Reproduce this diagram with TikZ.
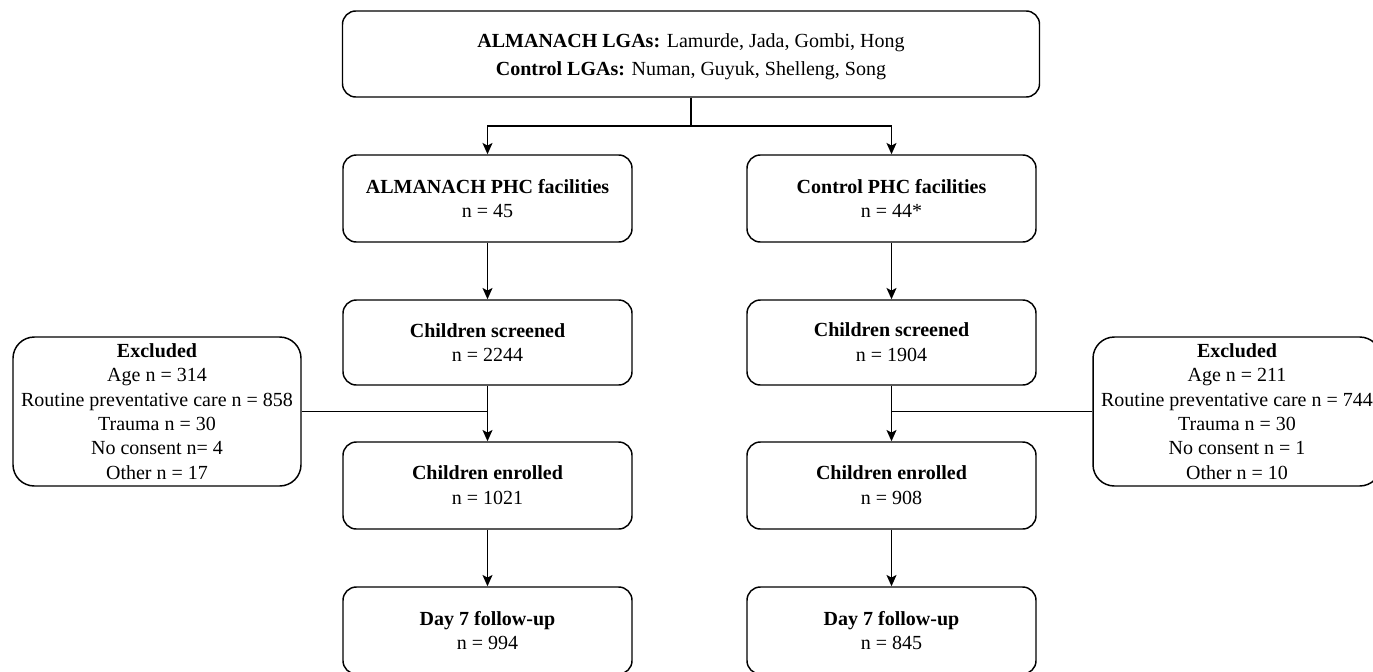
\documentclass[tikz,border=0pt]{standalone}
\usepackage{fontspec}
\setmainfont{Liberation Serif}
\usetikzlibrary{arrows.meta,calc}
\tikzset{
  box/.style={draw, line width=1.1pt, rounded corners=10pt, align=center,
    font=\fontsize{15}{18.6}\selectfont, minimum width=289*0.75pt, minimum height=87*0.75pt, inner sep=0pt},
  exbox/.style={box, rounded corners=16pt, font=\fontsize{15}{18.2}\selectfont, minimum width=288*0.75pt, minimum height=149*0.75pt},
  arr/.style={line width=1.1pt, -{Stealth[length=8.5pt,width=7.5pt,inset=2pt]}},
  ln/.style={line width=1.1pt}
}
\begin{document}
\begin{tikzpicture}[x=0.75pt,y=-0.75pt]
\useasboundingbox (0,0) rectangle (1373,671);
\node[box, minimum width=697*0.75pt, minimum height=86*0.75pt, font=\fontsize{15}{21}\selectfont] (top) at (691,54)
  {\rule{0pt}{14pt}\textbf{ALMANACH LGAs:} Lamurde, Jada, Gombi, Hong\\\textbf{Control LGAs:} Numan, Guyuk, Shelleng, Song};
\coordinate (split) at (691,126);
\node[box] (alm) at (487.5,198.5) {\textbf{ALMANACH PHC facilities}\\n = 45};
\node[box] (ctl) at (891.5,198.5) {\textbf{Control PHC facilities}\\n = 44*};
\node[box, minimum height=85*0.75pt] (scrA) at (487.5,342.5) {\textbf{Children screened}\\n = 2244};
\node[box, minimum height=85*0.75pt] (scrC) at (891.5,342.5) {\textbf{Children screened}\\n = 1904};
\node[box] (enrA) at (487.5,485.5) {\textbf{Children enrolled}\\n = 1021};
\node[box] (enrC) at (891.5,485.5) {\textbf{Children enrolled}\\n = 908};
\node[box] (dayA) at (487.5,630.5) {\textbf{Day 7 follow-up}\\n = 994};
\node[box] (dayC) at (891.5,630.5) {\textbf{Day 7 follow-up}\\n = 845};
\node[exbox] (exA) at (157,411.5) {\textbf{Excluded}\\Age n = 314\\Routine preventative care n = 858\\Trauma n = 30\\No consent n= 4\\Other n = 17};
\node[exbox] (exC) at (1237,411.5) {\textbf{Excluded}\\Age n = 211\\Routine preventative care n = 744\\Trauma n = 30\\No consent n = 1\\Other n = 10};
\draw[arr] (top.south) -- (split) -| (alm.north);
\draw[arr] (top.south) -- (split) -| (ctl.north);
\draw[arr] (alm.south) -- (scrA.north);
\draw[arr] (ctl.south) -- (scrC.north);
\draw[arr] (scrA.south) -- (enrA.north);
\draw[arr] (scrC.south) -- (enrC.north);
\draw[arr] (enrA.south) -- (dayA.north);
\draw[arr] (enrC.south) -- (dayC.north);
\draw[ln] (exA.east) -- (exA.east -| scrA.south);
\draw[ln] (exC.west) -- (exC.west -| scrC.south);
\end{tikzpicture}
\end{document}
